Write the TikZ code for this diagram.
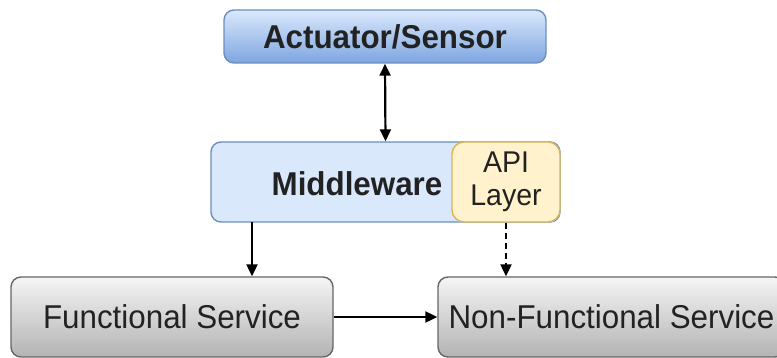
\documentclass[tikz,border=0pt]{standalone}
\usepackage{fontspec}
\setmainfont{Liberation Sans}[FakeStretch=0.95]
\usetikzlibrary{arrows.meta}

\definecolor{blueedge}{HTML}{6C8EBF}
\definecolor{bluetop}{HTML}{DAE8FC}
\definecolor{bluebot}{HTML}{7EA6E0}
\definecolor{bluefill}{HTML}{DAE8FC}
\definecolor{yelfill}{HTML}{FFF2CC}
\definecolor{yeledge}{HTML}{D6B656}
\definecolor{graytop}{HTML}{F5F5F5}
\definecolor{graybot}{HTML}{B3B3B3}
\definecolor{grayedge}{HTML}{666666}
\definecolor{inktext}{HTML}{222222}

\tikzset{
  box/.style={rectangle, rounded corners=10pt, line width=1.4pt, inner sep=0pt,
    text=inktext, font=\fontsize{33}{36}\selectfont},
  devicebox/.style={box, draw=blueedge, top color=bluetop, bottom color=bluebot,
    font=\fontsize{33}{36}\selectfont\bfseries},
  mwbox/.style={box, draw=blueedge, fill=bluefill},
  apibox/.style={box, rounded corners=12pt, draw=yeledge, fill=yelfill, align=center,
    font=\fontsize{30}{36}\selectfont},
  servicebox/.style={box, draw=grayedge, top color=graytop, bottom color=graybot},
  tipshape/.style={Triangle[length=12pt,width=11pt]},
  flow/.style={line width=2.2pt, -{Triangle[length=12pt,width=11pt]}},
  bothflow/.style={line width=2.2pt, {Triangle[length=12pt,width=11pt]}-{Triangle[length=12pt,width=11pt]}},
  softflow/.style={flow, dash pattern=on 6pt off 4pt}
}

\begin{document}
\begin{tikzpicture}[x=1pt, y=-1pt]
  \useasboundingbox (0,0) rectangle (777,358);
  \clip (0,0) rectangle (777,358);

  % top device
  \node[devicebox, minimum width=322pt, minimum height=53pt] (dev) at (385,36.5) {Actuator/Sensor};

  % middleware with its API layer on the right
  \node[mwbox, minimum width=349pt, minimum height=80pt] (mw) at (385.5,182) {};
  \node[text=inktext, font=\fontsize{33}{36}\selectfont\bfseries, inner sep=0pt] (mwlabel) at (357,184) {Middleware};
  \node[apibox, minimum width=108pt, minimum height=80pt] (api) at (506,182) {API\\[-3pt]Layer};

  % services
  \node[servicebox, minimum width=322pt, minimum height=80pt] (fs) at (172,317) {Functional Service};
  \node[servicebox, minimum width=347pt, minimum height=80pt] (nfs) at (611.5,317) {Non-Functional Service};

  % connectors
  \coordinate (mwdrop) at (252,222);
  \draw[bothflow] (dev.south) -- (mw.north);
  \draw[flow] (mwdrop) -- (mwdrop |- fs.north);
  \draw[softflow] (api.south) -- (api.south |- nfs.north);
  \draw[flow] (fs.east) -- (nfs.west);
\end{tikzpicture}
\end{document}
